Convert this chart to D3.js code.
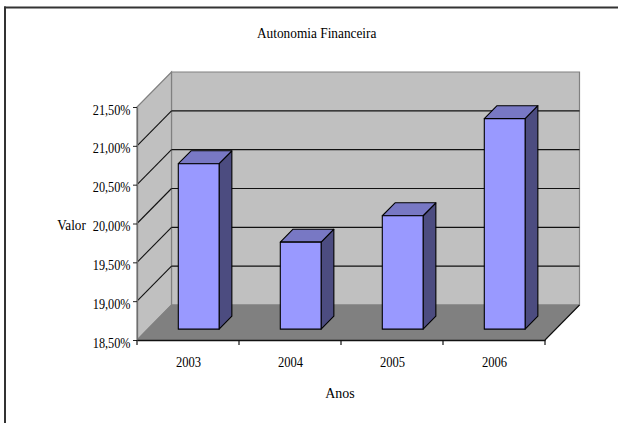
<!DOCTYPE html>
<html>
<head>
<meta charset="utf-8">
<script src="https://cdn.jsdelivr.net/npm/d3@7"></script>
<style>
  html, body { margin: 0; padding: 0; background: #fff; }
  svg { display: block; }
</style>
</head>
<body>
<svg id="chart" width="618" height="423"></svg>
<script>
// Autonomia financeira por ano (%)
const anos = ["2003", "2004", "2005", "2006"];
const autonomia = [20.63, 19.62, 19.96, 21.21];
const valorTicks = [18.5, 19, 19.5, 20, 20.5, 21, 21.5];
const titulo = "Autonomia Financeira";
const tituloEixoX = "Anos";
const tituloEixoY = "Valor";

const svg = d3.select("#chart");
const FONT = "'Liberation Serif','Times New Roman',serif";
const FS = 15.5;      // font size; glyphs are drawn horizontally narrowed

// Plot box (front face of the 3-D box) and depth offset
const X0 = 137, X1 = 545;
const DEPTH = { dx: 34.5, dy: -35 };
const BAR_DEPTH = [0.31, 0.68];   // bar front/back as a fraction of the box depth

const x = d3.scaleBand().domain(anos).range([X0, X1]);
const y = d3.scaleLinear().domain([18.5, 21.5]).range([340, 107]);
const [yMin, yMax] = y.domain();

const shift = (p, f) => [p[0] + DEPTH.dx * f, p[1] + DEPTH.dy * f];
const poly = pts => "M" + pts.map(p => p.join(",")).join("L") + "Z";

// Outer frame (top and left edges)
svg.append("line").attr("x1", 4).attr("y1", 7.5).attr("x2", 618).attr("y2", 7.5)
  .attr("stroke", "#333").attr("stroke-width", 2);
svg.append("line").attr("x1", 5).attr("y1", 6.5).attr("x2", 5).attr("y2", 423)
  .attr("stroke", "#333").attr("stroke-width", 2);

const box = svg.append("g");

// Walls and floor
const fBL = [X0, y(yMin)], fBR = [X1, y(yMin)], fTL = [X0, y(yMax)];
box.append("path")
  .attr("d", poly([shift(fBL, 1), shift(fBR, 1), shift([X1, y(yMax)], 1), shift(fTL, 1)]))
  .attr("fill", "#c0c0c0").attr("stroke", "#808080").attr("stroke-width", 1.2);
box.append("path")
  .attr("d", poly([fBL, fTL, shift(fTL, 1), shift(fBL, 1)]))
  .attr("fill", "#c0c0c0").attr("stroke", "#808080").attr("stroke-width", 1.2);
box.append("path")
  .attr("d", poly([fBL, fBR, shift(fBR, 1), shift(fBL, 1)]))
  .attr("fill", "#808080").attr("stroke", "#808080").attr("stroke-width", 1);

// Gridlines on the back wall and the side wall
const inner = valorTicks.filter(v => v > yMin && v < yMax);
box.selectAll("line.grid-back").data(inner).join("line")
  .attr("class", "grid-back")
  .attr("x1", X0 + DEPTH.dx).attr("x2", X1 + DEPTH.dx)
  .attr("y1", v => y(v) + DEPTH.dy).attr("y2", v => y(v) + DEPTH.dy)
  .attr("stroke", "#111").attr("stroke-width", 1.1);
box.selectAll("line.grid-side").data(inner).join("line")
  .attr("class", "grid-side")
  .attr("x1", X0).attr("x2", X0 + DEPTH.dx)
  .attr("y1", v => y(v)).attr("y2", v => y(v) + DEPTH.dy)
  .attr("stroke", "#111").attr("stroke-width", 1.1);

// Right floor edge
box.append("line")
  .attr("x1", fBR[0]).attr("y1", fBR[1])
  .attr("x2", shift(fBR, 1)[0]).attr("y2", shift(fBR, 1)[1])
  .attr("stroke", "#111").attr("stroke-width", 1.1);

// 3-D bars
const bw = x.bandwidth() * 0.4;
const d0 = BAR_DEPTH[0], dd = BAR_DEPTH[1] - BAR_DEPTH[0];
const bars = box.selectAll("g.bar").data(anos.map((a, i) => ({ ano: a, v: autonomia[i] })))
  .join("g").attr("class", "bar")
  .attr("stroke", "#000").attr("stroke-width", 1.1).attr("stroke-linejoin", "round");
bars.each(function (d) {
  const g = d3.select(this);
  const left = x(d.ano) + (x.bandwidth() - bw) / 2;
  const bl = shift([left, y(yMin)], d0), br = shift([left + bw, y(yMin)], d0);
  const tl = shift([left, y(d.v)], d0), tr = shift([left + bw, y(d.v)], d0);
  g.append("path").attr("d", poly([tr, br, shift(br, dd), shift(tr, dd)])).attr("fill", "#4c4c80");
  g.append("path").attr("d", poly([tl, tr, shift(tr, dd), shift(tl, dd)])).attr("fill", "#7878c4");
  g.append("path").attr("d", poly([bl, br, tr, tl])).attr("fill", "#9999ff");
});

// Value axis on the front-left edge
const fmt = d3.formatLocale({ decimal: ",", thousands: ".", grouping: [3], currency: ["", ""] }).format(".2f");
const yAxis = svg.append("g").attr("transform", `translate(${X0},0)`)
  .call(d3.axisLeft(y).tickValues(valorTicks).tickSize(4).tickSizeOuter(0)
    .tickFormat(v => fmt(v) + "%"));
yAxis.select(".domain").attr("stroke", "#6e6e6e").attr("stroke-width", 1.3);
yAxis.selectAll(".tick line").attr("stroke", "#222");
yAxis.selectAll("text")
  .attr("x", null).attr("dy", null)
  .attr("transform", "translate(-6.5,7) scale(0.79,1)")
  .attr("font-family", FONT).attr("font-size", FS).attr("fill", "#000");

// Category axis along the front floor edge
const xAxis = svg.append("g").attr("transform", `translate(0,${y(yMin)})`)
  .call(d3.axisBottom(x).tickSize(0).tickSizeOuter(0));
xAxis.select(".domain").attr("stroke", "#111").attr("stroke-width", 1.3);
xAxis.selectAll("text")
  .attr("y", null).attr("dy", null)
  .attr("transform", "translate(0.5,27) scale(0.81,1)")
  .attr("font-family", FONT).attr("font-size", FS).attr("fill", "#000");
const bounds = anos.map(a => x(a)).concat([x.range()[1]]);
xAxis.selectAll("line.sep").data(bounds).join("line").attr("class", "sep")
  .attr("x1", d => d).attr("x2", d => d).attr("y1", 0).attr("y2", 5)
  .attr("stroke", "#111").attr("stroke-width", 1.2);

// Titles
function label(txt, tx, ty, sx) {
  svg.append("text")
    .attr("transform", `translate(${tx},${ty}) scale(${sx},1)`)
    .attr("text-anchor", "middle")
    .attr("font-family", FONT).attr("font-size", FS).attr("fill", "#000")
    .text(txt);
}
label(titulo, 316.7, 38, 0.86);
label(tituloEixoX, 340, 398, 0.9);
label(tituloEixoY, 71.5, 230, 0.85);
</script>
</body>
</html>
